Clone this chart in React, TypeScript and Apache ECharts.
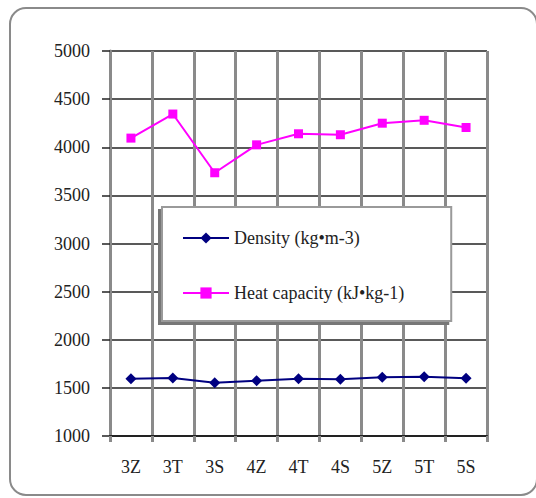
import React, { useEffect, useRef } from "react";
import * as echarts from "echarts";

const categories = ["3Z", "3T", "3S", "4Z", "4T", "4S", "5Z", "5T", "5S"];
const densityValues = [1595, 1603, 1554, 1575, 1595, 1589, 1610, 1616, 1599];
const heatCapacityValues = [4095, 4345, 3735, 4025, 4140, 4130, 4250, 4280, 4205];
const seriesNames = ["Density (kg•m-3)", "Heat capacity (kJ•kg-1)"];

const FONT = "Liberation Serif";

export default function App() {
  const ref = useRef<HTMLDivElement>(null);
  useEffect(() => {
    if (!ref.current) return;
    const chart = echarts.init(ref.current, undefined, { renderer: "svg" });
    chart.setOption({
      animation: false,
      backgroundColor: "#ffffff",
      graphic: [
        {
          type: "rect",
          z: -1,
          shape: { x: 10, y: 8, width: 527, height: 487, r: 16 },
          style: { fill: "none", stroke: "#8a8a8a", lineWidth: 2 },
        },
      ],
      grid: { left: 110, top: 51, width: 377, height: 385 },
      xAxis: {
        type: "category",
        data: categories,
        boundaryGap: true,
        axisLine: { show: true, lineStyle: { color: "#222", width: 2 } },
        axisTick: { show: true, interval: 0, length: 6, lineStyle: { color: "#8a8a8a", width: 3 } },
        axisLabel: { interval: 0, margin: 22, color: "#222", fontFamily: FONT, fontSize: 18 },
        splitLine: { show: true, interval: 0, lineStyle: { color: "#8a8a8a", width: 3 } },
      },
      yAxis: {
        type: "value",
        min: 1000,
        max: 5000,
        interval: 500,
        axisLine: { show: true, lineStyle: { color: "#8a8a8a", width: 3 } },
        axisTick: { show: true, length: 8, lineStyle: { color: "#222", width: 1.5 } },
        axisLabel: {
          margin: 20,
          color: "#222",
          fontFamily: FONT,
          fontSize: 18,
          formatter: (v: number) => String(v),
        },
        splitLine: { show: true, lineStyle: { color: "#222", width: 1.5 } },
      },
      legend: {
        left: 162,
        top: 207,
        orient: "vertical",
        itemWidth: 46,
        itemHeight: 14,
        itemGap: 37,
        padding: [22, 47, 19, 20],
        backgroundColor: "#ffffff",
        borderColor: "#9a9a9a",
        borderWidth: 2,
        borderRadius: 0,
        shadowColor: "#777",
        shadowBlur: 0,
        shadowOffsetX: -3,
        shadowOffsetY: 3,
        textStyle: { color: "#222", fontFamily: FONT, fontSize: 18 },
        data: seriesNames,
      },
      series: [
        {
          name: seriesNames[0],
          type: "line",
          data: densityValues,
          symbol: "diamond",
          symbolSize: 11,
          lineStyle: { color: "#000080", width: 2 },
          itemStyle: { color: "#000080" },
        },
        {
          name: seriesNames[1],
          type: "line",
          data: heatCapacityValues,
          symbol: "rect",
          symbolSize: 9,
          lineStyle: { color: "#ff00ff", width: 2 },
          itemStyle: { color: "#ff00ff" },
        },
      ],
    });
    return () => chart.dispose();
  }, []);
  return (
    <div
      ref={ref}
      style={{ position: "fixed", left: 0, top: 0, width: 536, height: 498 }}
    />
  );
}
